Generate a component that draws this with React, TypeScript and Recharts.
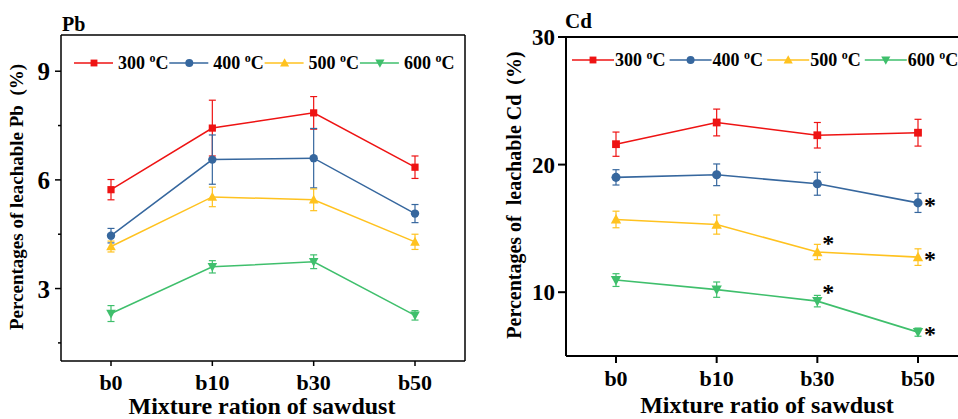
import React from 'react';
import { LineChart, Line, XAxis, YAxis, ErrorBar, Legend, LabelList } from 'recharts';

const categories = ['b0', 'b10', 'b30', 'b50'];

// Pb (%)
const pb300 = [5.73, 7.43, 7.85, 6.35];
const pb300Err = [0.28, 0.77, 0.45, 0.31];
const pb400 = [4.46, 6.56, 6.6, 5.07];
const pb400Err = [0.2, 0.68, 0.82, 0.25];
const pb500 = [4.16, 5.53, 5.45, 4.29];
const pb500Err = [0.15, 0.27, 0.3, 0.21];
const pb600 = [2.31, 3.6, 3.74, 2.26];
const pb600Err = [0.22, 0.17, 0.19, 0.13];

// Cd (%)
const cd300 = [21.6, 23.3, 22.3, 22.5];
const cd300Err = [0.95, 1.05, 1.0, 1.05];
const cd400 = [19.0, 19.2, 18.5, 17.0];
const cd400Err = [0.6, 0.85, 0.9, 0.75];
const cd500 = [15.7, 15.3, 13.15, 12.75];
const cd500Err = [0.65, 0.75, 0.6, 0.65];
const cd600 = [10.95, 10.2, 9.3, 6.87];
const cd600Err = [0.5, 0.6, 0.45, 0.32];

// significance marks
const cd300Sig = ['', '', '', ''];
const cd400Sig = ['', '', '', '*'];
const cd500Sig = ['', '', '*', '*'];
const cd600Sig = ['', '', '*', '*'];

const temps = ['300', '400', '500', '600'];
const pbTicks = [1.5, 3, 4.5, 6, 7.5, 9];
const cdTicks = [10, 20, 30];

const FONT = '"Liberation Serif", "Times New Roman", serif';
const COLORS = ['#EE1313', '#36679E', '#FFC21F', '#3FBF6C'];
const SHAPES = ['square', 'circle', 'up', 'down'];

const pbData = categories.map((c, i) => ({
  cat: c,
  v300: pb300[i], e300: pb300Err[i],
  v400: pb400[i], e400: pb400Err[i],
  v500: pb500[i], e500: pb500Err[i],
  v600: pb600[i], e600: pb600Err[i],
}));

const cdData = categories.map((c, i) => ({
  cat: c,
  v300: cd300[i], e300: cd300Err[i], s300: cd300Sig[i],
  v400: cd400[i], e400: cd400Err[i], s400: cd400Sig[i],
  v500: cd500[i], e500: cd500Err[i], s500: cd500Sig[i],
  v600: cd600[i], e600: cd600Err[i], s600: cd600Sig[i],
}));

function Marker({ cx, cy, shape, color, s = 1 }: any) {
  if (cx == null || cy == null) return null;
  if (shape === 'square') {
    const h = 3.6 * s;
    return <rect x={cx - h} y={cy - h} width={2 * h} height={2 * h} fill={color} />;
  }
  if (shape === 'circle') {
    return <circle cx={cx} cy={cy} r={4.2 * s} fill={color} />;
  }
  const w = 4.8 * s;
  const h = 4.4 * s;
  if (shape === 'up') {
    return <path d={`M${cx},${cy - h - 0.6} L${cx + w},${cy + h - 0.6} L${cx - w},${cy + h - 0.6} Z`} fill={color} />;
  }
  return <path d={`M${cx},${cy + h + 0.6} L${cx + w},${cy - h + 0.6} L${cx - w},${cy - h + 0.6} Z`} fill={color} />;
}

function makeDot(shape: string, color: string, s: number) {
  return (p: any) => <Marker key={`d-${shape}-${p.index}`} cx={p.cx} cy={p.cy} shape={shape} color={color} s={s} />;
}

function makeLegend(textStart: number, step: number, cy: number, lineBefore: number, lineAfter: number, markerBefore: number, width: number) {
  return (props: any) => {
    const payload = props.payload || [];
    return (
      <svg width={width} height={cy + 14} style={{ display: 'block', overflow: 'visible' }}>
        {payload.map((item: any, i: number) => {
          const tx = textStart + i * step;
          const idx = temps.findIndex((t) => item.dataKey === 'v' + t);
          return (
            <g key={String(item.dataKey)}>
              <line x1={tx - lineBefore} x2={tx - lineAfter} y1={cy} y2={cy} stroke={item.color} strokeWidth={1.6} />
              <Marker cx={tx - markerBefore} cy={cy} shape={SHAPES[idx]} color={item.color} s={0.95} />
              <text x={tx} y={cy + 6} fontFamily={FONT} fontWeight="bold" fontSize={18} fill="#000">
                {temps[idx] + ' '}
                <tspan dy={-7} fontSize={12}>o</tspan>
                <tspan dy={7}>C</tspan>
              </text>
            </g>
          );
        })}
      </svg>
    );
  };
}

const PbTick = (props: any) => {
  const { x, y, payload } = props;
  const v = payload.value;
  const major = Math.abs(v % 3) < 1e-6;
  const axisX = x + 6 + 5;
  return (
    <g>
      <line x1={axisX} x2={axisX - (major ? 6 : 3)} y1={y} y2={y} stroke="#000" strokeWidth={1.5} />
      {major && (
        <text x={x} y={y} dy="0.36em" textAnchor="end" fontFamily={FONT} fontWeight="bold" fontSize={25} fill="#000">
          {v}
        </text>
      )}
    </g>
  );
};

const SigLabel = (props: any) => {
  const { x, y, value, index } = props;
  if (!value) return null;
  const last = index === categories.length - 1;
  const dx = last ? 6 : 5;
  const dy = last ? 10 : -1;
  return (
    <text x={x + dx} y={y + dy} fontFamily={FONT} fontWeight="bold" fontSize={24} fill="#000">
      {value}
    </text>
  );
};

const tickStyle = { fill: '#000', fontSize: 22, fontWeight: 'bold', fontFamily: FONT };
const yTickStyle = { fill: '#000', fontSize: 23, fontWeight: 'bold', fontFamily: FONT };

export default function App() {
  return (
    <div style={{ position: 'absolute', left: 0, top: 0, width: 958, height: 419, overflow: 'hidden', background: '#fff' }}>
      <div style={{ position: 'absolute', left: 0, top: 0 }}>
        <LineChart width={480} height={419} data={pbData} margin={{ top: 34, right: 14, bottom: 0, left: 0 }}>
          <XAxis
            dataKey="cat"
            height={58}
            padding={{ left: 50, right: 50 }}
            tick={tickStyle}
            tickSize={5}
            tickMargin={8}
            axisLine={{ stroke: '#000', strokeWidth: 1.5 }}
            tickLine={{ stroke: '#000', strokeWidth: 1.5 }}
          />
          <XAxis xAxisId="top" orientation="top" dataKey="cat" height={1} tick={false} tickLine={false} axisLine={{ stroke: '#000', strokeWidth: 1.5 }} />
          <YAxis
            type="number"
            domain={[1, 10]}
            ticks={pbTicks}
            width={61}
            tickSize={6}
            tickMargin={5}
            tickLine={false}
            tick={<PbTick />}
            axisLine={{ stroke: '#000', strokeWidth: 1.5 }}
          />
          <YAxis yAxisId="right" orientation="right" type="number" domain={[1, 10]} width={1} tick={false} tickLine={false} axisLine={{ stroke: '#000', strokeWidth: 1.5 }} />
          <Legend
            layout="horizontal"
            verticalAlign="middle"
            align="center"
            content={makeLegend(118, 95.3, 10, 44, 5, 24, 480)}
            wrapperStyle={{ position: 'absolute', left: 0, top: 53, width: 480 }}
          />
          {temps.map((t, i) => (
            <Line
              key={t}
              dataKey={'v' + t}
              name={t + ' °C'}
              stroke={COLORS[i]}
              strokeWidth={1.5}
              dot={makeDot(SHAPES[i], COLORS[i], 1)}
              activeDot={false}
              isAnimationActive={false}
            >
              <ErrorBar dataKey={'e' + t} width={3.5} stroke={COLORS[i]} strokeWidth={1.2} direction="y" />
            </Line>
          ))}
        </LineChart>
      </div>

      <div style={{ position: 'absolute', left: 480, top: 0 }}>
        <LineChart width={488} height={419} data={cdData} margin={{ top: 36, right: 0, bottom: 0, left: 0 }}>
          <XAxis
            dataKey="cat"
            height={63}
            padding={{ left: 50, right: 50 }}
            tick={tickStyle}
            tickSize={7}
            tickMargin={7}
            axisLine={{ stroke: '#000', strokeWidth: 2 }}
            tickLine={{ stroke: '#000', strokeWidth: 2 }}
          />
          <XAxis xAxisId="top" orientation="top" dataKey="cat" height={1} tick={false} tickLine={false} axisLine={{ stroke: '#000', strokeWidth: 2 }} />
          <YAxis
            type="number"
            domain={[5, 30]}
            ticks={cdTicks}
            width={86}
            tickSize={8}
            tickMargin={3}
            tick={yTickStyle}
            axisLine={{ stroke: '#000', strokeWidth: 2 }}
            tickLine={{ stroke: '#000', strokeWidth: 2 }}
          />
          <Legend
            layout="horizontal"
            verticalAlign="middle"
            align="center"
            content={makeLegend(135, 97.6, 10, 43, 1, 22, 488)}
            wrapperStyle={{ position: 'absolute', left: 0, top: 50, width: 488 }}
          />
          {temps.map((t, i) => (
            <Line
              key={t}
              dataKey={'v' + t}
              name={t + ' °C'}
              stroke={COLORS[i]}
              strokeWidth={1.6}
              dot={makeDot(SHAPES[i], COLORS[i], 1.08)}
              activeDot={false}
              isAnimationActive={false}
            >
              <ErrorBar dataKey={'e' + t} width={3.5} stroke={COLORS[i]} strokeWidth={1.2} direction="y" />
              <LabelList dataKey={'s' + t} content={<SigLabel />} />
            </Line>
          ))}
        </LineChart>
      </div>

      <svg width={958} height={419} style={{ position: 'absolute', left: 0, top: 0, pointerEvents: 'none' }}>
        <g fontFamily={FONT} fontWeight="bold" fill="#000">
          <text x={62} y={31} fontSize={20}>Pb</text>
          <text x={565} y={28} fontSize={21}>Cd</text>
          <text x={262} y={414} fontSize={24} textAnchor="middle">Mixture ration of sawdust</text>
          <text x={767} y={413} fontSize={24} textAnchor="middle">Mixture ratio of sawdust</text>
          <text x={23} y={197} fontSize={19} textAnchor="middle" transform="rotate(-90 23 197)">
            Percentages of leachable Pb{'\u00A0\u00A0'}(%)
          </text>
          <text x={521} y={195} fontSize={20} textAnchor="middle" transform="rotate(-90 521 195)">
            Percentages of{'\u00A0\u00A0'}leachable Cd{'\u00A0\u00A0'}(%)
          </text>
        </g>
      </svg>
    </div>
  );
}
